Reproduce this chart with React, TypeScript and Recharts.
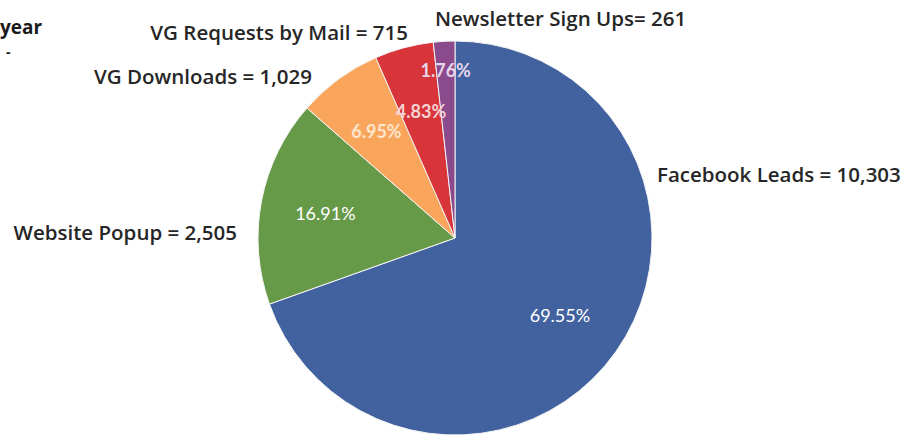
import { PieChart, Pie, Cell } from 'recharts';

const names = ['Facebook Leads', 'Website Popup', 'VG Downloads', 'VG Requests by Mail', 'Newsletter Sign Ups'];
const values = [10303, 2505, 1029, 715, 261];
const nameLabels = ['Facebook Leads = 10,303', 'Website Popup = 2,505', 'VG Downloads = 1,029', 'VG Requests by Mail = 715', 'Newsletter Sign Ups= 261'];
const pctLabels = ['69.55%', '16.91%', '6.95%', '4.83%', '1.76%'];

const COLORS = ['#41619f', '#679a48', '#f9a55c', '#d8353b', '#8b4a8c'];
const PCT_COLORS = ['#ffffff', '#ffffff', '#fde6cc', '#f6d3d3', '#e6d6ea'];
// label placement, relative to pie centre
const NAME_POS: [number, number, 'start' | 'end'][] = [
  [202, -64, 'start'],
  [-218, -6, 'end'],
  [-143, -162, 'end'],
  [-47, -206, 'end'],
  [-20, -220, 'start'],
];
const PCT_R = [0.66, 0.67, 0.675, 0.665, 0.855];
const PCT_NUDGE = [-1, 0, 0, 0, 0];

const data = names.map((n, i) => ({ name: n, value: values[i] }));
const RAD = Math.PI / 180;

function renderLabel(p: any) {
  const { cx, cy, midAngle, outerRadius, index } = p;
  const a = (midAngle + PCT_NUDGE[index]) * RAD;
  const r = outerRadius * PCT_R[index];
  const px = cx + r * Math.cos(a);
  const py = cy - r * Math.sin(a);
  const [dx, dy, anchor] = NAME_POS[index];
  return (
    <g>
      <text x={px} y={py} fill={PCT_COLORS[index]} textAnchor="middle" dominantBaseline="central"
        fontFamily="Lato" fontSize={18} fontWeight={index > 1 ? 700 : 400}>
        {pctLabels[index]}
      </text>
      <text x={cx + dx} y={cy + dy} fill="#262626" textAnchor={anchor} dominantBaseline="central"
        fontFamily="Open Sans" fontSize={20.5} fontWeight={600}>
        {nameLabels[index]}
      </text>
    </g>
  );
}

export default function App() {
  return (
    <div style={{ position: 'absolute', left: 0, top: 0, width: 903, height: 438, background: '#fff', overflow: 'hidden' }}>
      <PieChart width={903} height={438} margin={{ top: 0, right: 0, bottom: 0, left: 0 }}>
        <text x={0} y={34} fill="#1a1a1a" fontFamily="Open Sans" fontWeight={700} fontSize={19}>year</text>
        <text x={6} y={57} fill="#1a1a1a" fontFamily="Open Sans" fontWeight={700} fontSize={14}>-</text>
        <Pie
          data={data}
          dataKey="value"
          nameKey="name"
          cx={455}
          cy={238}
          outerRadius={197}
          startAngle={90}
          endAngle={-270}
          stroke="#f4f4f4"
          strokeWidth={1}
          label={renderLabel}
          labelLine={false}
          isAnimationActive={false}
        >
          {data.map((d, i) => <Cell key={d.name} fill={COLORS[i]} />)}
        </Pie>
      </PieChart>
    </div>
  );
}
